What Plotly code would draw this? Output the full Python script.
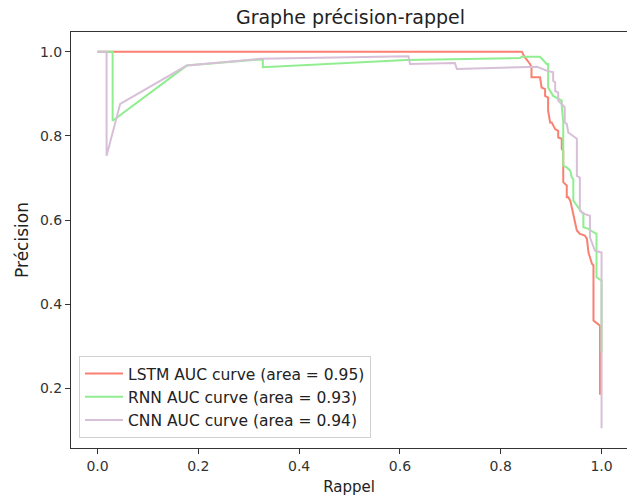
import plotly.graph_objects as go

# ---- data ----
lstm_recall = [0.0, 0.842, 0.846, 0.858, 0.861, 0.861, 0.878, 0.881, 0.888, 0.888, 0.894, 0.894,
               0.898, 0.901, 0.908, 0.914, 0.914, 0.921, 0.921, 0.924, 0.924, 0.931, 0.931, 0.934,
               0.938, 0.941, 0.944, 0.947, 0.951, 0.957, 0.967, 0.971, 0.974, 0.974, 0.981, 0.984,
               0.984, 0.994, 0.997, 0.997]
lstm_precision = [1.0, 1.0, 0.990, 0.971, 0.963, 0.939, 0.939, 0.915, 0.911, 0.895, 0.891, 0.860,
                  0.832, 0.832, 0.816, 0.812, 0.796, 0.793, 0.769, 0.765, 0.690, 0.682, 0.654, 0.654,
                  0.646, 0.630, 0.614, 0.599, 0.575, 0.567, 0.563, 0.555, 0.527, 0.523, 0.496, 0.492,
                  0.361, 0.353, 0.349, 0.185]

rnn_recall = [0.0, 0.030, 0.030, 0.177, 0.316, 0.328, 0.328, 0.613, 0.838, 0.842, 0.878, 0.891,
              0.894, 0.894, 0.904, 0.921, 0.921, 0.924, 0.924, 0.931, 0.938, 0.941, 0.944, 0.944,
              0.961, 0.964, 0.964, 0.974, 0.984, 0.990, 0.990, 1.0, 1.0]
rnn_precision = [1.0, 1.0, 0.836, 0.967, 0.981, 0.981, 0.963, 0.980, 0.985, 0.988, 0.988, 0.971,
                 0.971, 0.915, 0.895, 0.884, 0.872, 0.832, 0.729, 0.725, 0.717, 0.701, 0.697, 0.646,
                 0.618, 0.614, 0.583, 0.579, 0.571, 0.567, 0.464, 0.456, 0.285]

cnn_recall = [0.0, 0.018, 0.018, 0.045, 0.177, 0.322, 0.617, 0.620, 0.709, 0.713, 0.838, 0.872,
              0.891, 0.904, 0.904, 0.908, 0.908, 0.914, 0.914, 0.924, 0.927, 0.927, 0.931, 0.934,
              0.944, 0.951, 0.951, 0.957, 0.957, 0.967, 0.977, 0.977, 0.987, 0.997, 1.0, 1.0]
cnn_precision = [1.0, 1.0, 0.753, 0.876, 0.967, 0.983, 0.989, 0.971, 0.973, 0.959, 0.963, 0.964,
                 0.955, 0.951, 0.931, 0.927, 0.907, 0.903, 0.884, 0.872, 0.868, 0.832, 0.828, 0.808,
                 0.800, 0.793, 0.705, 0.701, 0.622, 0.614, 0.610, 0.559, 0.527, 0.523, 0.523, 0.105]

names = ["LSTM AUC curve (area = 0.95)", "RNN AUC curve (area = 0.93)", "CNN AUC curve (area = 0.94)"]
colors = ["salmon", "lightgreen", "thistle"]

x_ticks = [0.0, 0.2, 0.4, 0.6, 0.8, 1.0]
y_ticks = [0.2, 0.4, 0.6, 0.8, 1.0]

FONT = "DejaVu Sans"
W, H = 627, 497
L, R, T, B = 71, 0, 32, 49

fig = go.Figure()
for xs, ys, nm, col in [(lstm_recall, lstm_precision, names[0], colors[0]),
                        (rnn_recall, rnn_precision, names[1], colors[1]),
                        (cnn_recall, cnn_precision, names[2], colors[2])]:
    fig.add_trace(go.Scatter(x=xs, y=ys, mode="lines", name=nm,
                             line=dict(color=col, width=2)))

axis_common = dict(showline=True, linecolor="#333333", linewidth=1, mirror=True,
                   ticks="outside", ticklen=5, tickwidth=1, tickcolor="#333333",
                   showgrid=False, zeroline=False,
                   tickfont=dict(family=FONT, size=14, color="#333333"))

fig.update_layout(
    width=W, height=H,
    margin=dict(l=L, r=R, t=T, b=B, pad=0),
    paper_bgcolor="white", plot_bgcolor="white",
    title=dict(text="Graphe précision-rappel", x=350.5 / W, xanchor="center",
               y=1 - 17.5 / H, yanchor="middle",
               font=dict(family=FONT, size=19, color="#222222")),
    xaxis=dict(range=[-0.0526, 1.0505], tickvals=x_ticks, tickformat=".1f",
               title=dict(text="Rappel", font=dict(family=FONT, size=15, color="#222222"), standoff=8),
               **axis_common),
    yaxis=dict(range=[0.0582, 1.0468], tickvals=y_ticks, tickformat=".1f",
               title=dict(text="Précision", font=dict(family=FONT, size=17, color="#222222"), standoff=6),
               **axis_common),
    legend=dict(x=0.0144, y=0.024, xanchor="left", yanchor="bottom",
                bgcolor="rgba(255,255,255,0.85)", bordercolor="#d0d0d0", borderwidth=1,
                font=dict(family=FONT, size=15.5, color="#222222"),
                tracegroupgap=0, itemwidth=38),
    showlegend=True,
)

fig.write_html("out.html", config={"displayModeBar": False},
               post_script="document.body.style.margin='0';document.body.style.overflow='hidden';")
